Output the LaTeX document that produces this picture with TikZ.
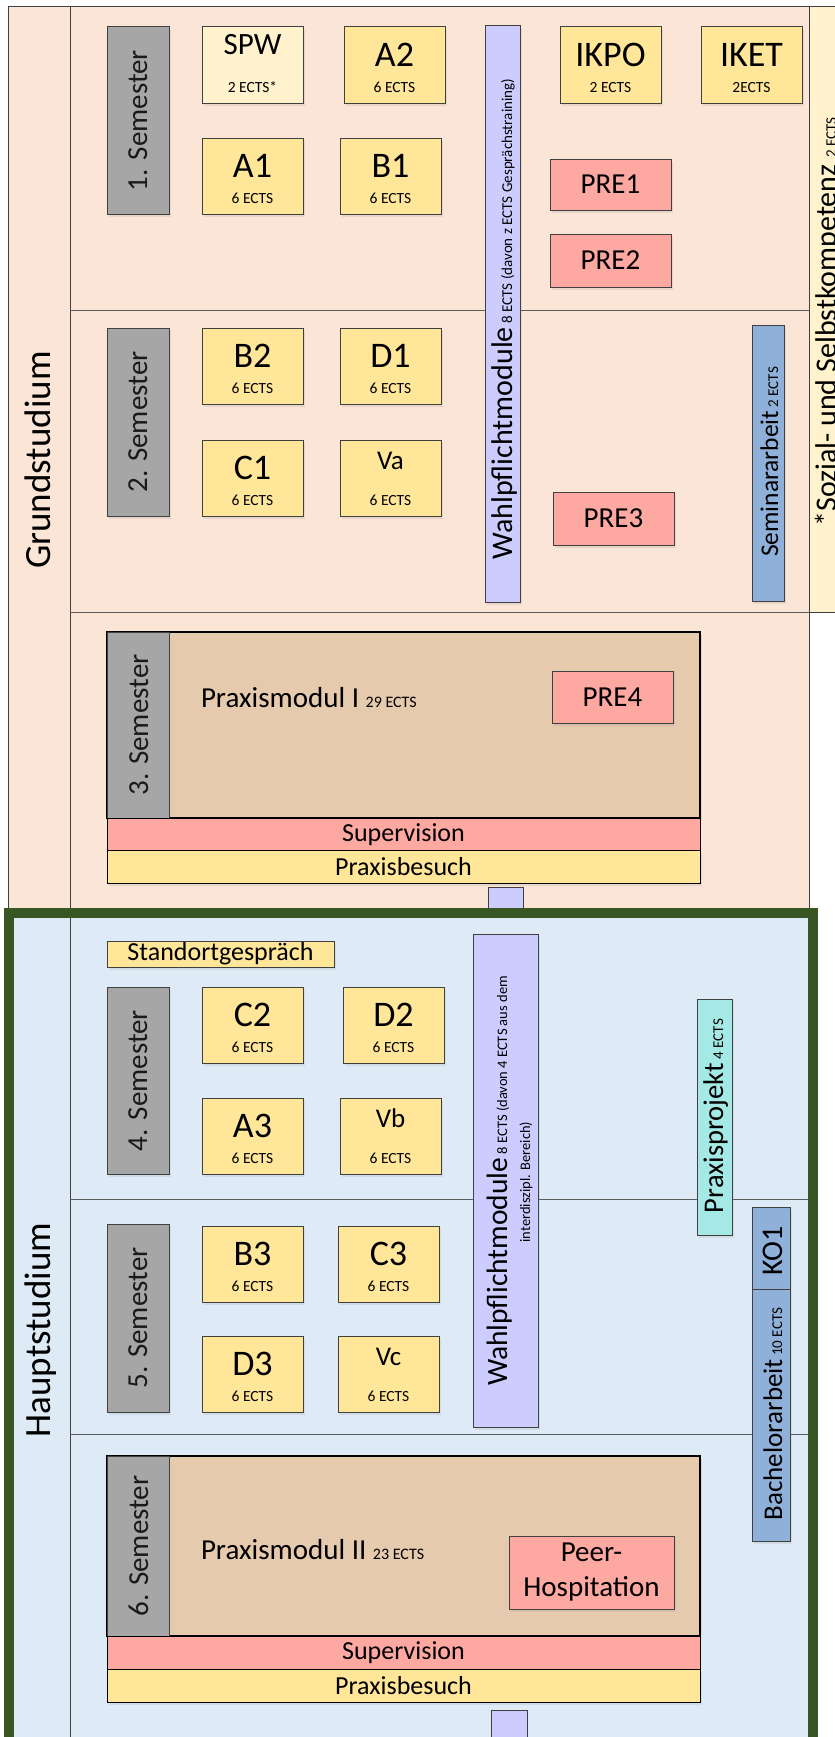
\documentclass[tikz,border=0pt]{standalone}
\usepackage{fontspec}
\setmainfont{Carlito}
\usetikzlibrary{shadows,calc}
\definecolor{peach}{HTML}{FBE5D6}
\definecolor{lblue}{HTML}{DEEBF7}
\definecolor{praxtan}{HTML}{E5CAAD}
\definecolor{semgray}{HTML}{A6A6A6}
\definecolor{modyel}{HTML}{FFE699}
\definecolor{lyel}{HTML}{FFF2CC}
\definecolor{prered}{HTML}{FDA8A1}
\definecolor{wpurple}{HTML}{CCCCFF}
\definecolor{sblue}{HTML}{8FB0D8}
\definecolor{tealc}{HTML}{A4E9E5}
\definecolor{dgreen}{HTML}{375623}
\definecolor{edge}{HTML}{404040}
\definecolor{semtext}{HTML}{1A1A1A}
\tikzset{
  every node/.style={inner sep=0pt, outer sep=0pt},
  sh/.style={drop shadow={opacity=0.15, shadow xshift=2pt, shadow yshift=-3pt}},
  boxb/.style={draw=edge, line width=1, anchor=north west, sh},
  modbox/.style={boxb, fill=modyel, minimum width=101, minimum height=76},
  sembox/.style={boxb, fill=semgray, minimum width=62, minimum height=187},
  prebox/.style={boxb, fill=prered, minimum width=121, minimum height=51, font=\fontsize{29}{33}\selectfont},
  bigt/.style={anchor=base, font=\fontsize{36}{40}\selectfont},
  vbigt/.style={anchor=base, font=\fontsize{27}{30}\selectfont},
  smallt/.style={anchor=base, font=\fontsize{15.5}{18}\selectfont},
  semt/.style={anchor=base, rotate=90, text=semtext, font=\fontsize{29}{32}\selectfont},
  rott/.style={anchor=base, rotate=90},
  sept/.style={draw=edge!85, line width=1},
  barb/.style={draw=black, line width=1, anchor=north west, minimum width=593, minimum height=33, font=\fontsize{26}{28}\selectfont},
  studt/.style={anchor=base, rotate=90, font=\fontsize{37}{40}\selectfont},
}
\newcommand\modul[5]{%
  \node[modbox] (#1) at (#2,#3) {};
  \node[bigt] (#1-a) at ($(#1.north)+(0,39.5)$) {#4};
  \node[smallt] (#1-b) at ($(#1.north)+(0,65.5)$) {#5};
}
\newcommand\vmodul[5]{%
  \node[modbox] (#1) at (#2,#3) {};
  \node[vbigt] (#1-a) at ($(#1.north)+(0,29)$) {#4};
  \node[smallt] (#1-b) at ($(#1.north)+(0,65.5)$) {#5};
}
\newcommand\smallf{\fontsize{15}{17}\selectfont}
\newcommand\smallg{\fontsize{14.5}{17}\selectfont}
\newcommand\bigf{\fontsize{30}{33}\selectfont}
\begin{document}
\begin{tikzpicture}[x=1pt,y=-1pt]
\useasboundingbox[fill=white] (0,0) rectangle (835,1737);
% regions
\path[fill=peach, draw=edge, line width=1] (8,7) rectangle (809,913);
\path[fill=lyel, draw=edge, line width=1] (809,7) rectangle (880,612);
\path[fill=lblue] (9,913) rectangle (813,1790);
\draw[edge, line width=1] (70,7) -- (70,1790);
\draw[sept] (70,310) -- (809,310) (70,612) -- (809,612) (70,1199) -- (808,1199) (70,1434) -- (808,1434);
% column labels
\node[studt] (grund) at (50,460) {Grundstudium};
\node[studt] (haupt) at (50,1330) {Hauptstudium};
\node[rott] (sozial) at (836,322) {\bigf *Sozial- und Selbstkompetenz \smallf 2 ECTS};
% ---------- 1. Semester
\node[sembox] (s1) at (107,27) {};
\node[semt] (s1t) at (147,120.5) {1. Semester};
\node[modbox, fill=lyel] (spw) at (202,27) {};
\node[anchor=base, font=\fontsize{31}{34}\selectfont] (spw-a) at ($(spw.north)+(0,28)$) {SPW};
\node[smallt] (spw-b) at ($(spw.north)+(0,65.5)$) {2 ECTS*};
\modul{a2}{344}{27}{A2}{6 ECTS}
\modul{ikpo}{560}{27}{IKPO}{2 ECTS}
\modul{iket}{701}{27}{IKET}{2ECTS}
\modul{a1}{202}{138}{A1}{6 ECTS}
\modul{b1}{340}{138}{B1}{6 ECTS}
\node[prebox] (pre1) at (550,159) {PRE1};
\node[prebox, minimum height=53] (pre2) at (550,234) {PRE2};
% Wahlpflicht 1
\node[boxb, fill=wpurple, minimum width=35, minimum height=576] (wp1) at (485,26) {};
\node[rott] (wp1t) at (512,319) {\smallf{\fontsize{30}{33}\selectfont Wahlpflichtmodule} 8 ECTS (davon z ECTS Gesprächstraining)};
% ---------- 2. Semester
\node[sembox, minimum height=188] (s2) at (107,328) {};
\node[semt] (s2t) at (147,422) {2. Semester};
\modul{b2}{202}{328}{B2}{6 ECTS}
\modul{d1}{340}{328}{D1}{6 ECTS}
\modul{c1}{202}{440}{C1}{6 ECTS}
\vmodul{va}{340}{440}{Va}{6 ECTS}
\node[prebox, minimum height=53] (pre3) at (553,492) {PRE3};
\node[boxb, fill=sblue, minimum width=32, minimum height=276] (sem) at (752,325) {};
\node[rott] (semt) at (778,462) {\smallf{\fontsize{25.5}{28}\selectfont Seminararbeit} 2 ECTS};
% ---------- 3. Semester
\node[draw=black, line width=1.4, fill=praxtan, anchor=north west, minimum width=593, minimum height=186, sh] (pm1) at (107,632) {};
\node[draw=edge, line width=1, fill=semgray, anchor=north west, minimum width=62, minimum height=186] (s3) at (107,632) {};
\node[semt] (s3t) at (148,725) {3. Semester};
\node[anchor=base west, font=\fontsize{29}{32}\selectfont] (pm1t) at (201,707) {Praxismodul I {\fontsize{16}{18}\selectfont 29 ECTS}};
\node[prebox, minimum height=52] (pre4) at (552,671) {PRE4};
\node[barb, fill=prered] (sup1) at (107,818) {Supervision};
\node[barb, fill=modyel, sh] (pb1) at (107,850) {Praxisbesuch};
\node[draw=edge, line width=1, fill=wpurple, anchor=north west, minimum width=35, minimum height=22] (con1) at (488,887) {};
% ---------- Hauptstudium frame
\draw[dgreen, line width=9.5] (9,913) rectangle (813,1800);
\node[boxb, fill=modyel, minimum width=227, minimum height=26, font=\fontsize{26}{28}\selectfont] (stand) at (107,941) {Standortgespräch};
% ---------- 4. Semester
\node[sembox] (s4) at (107,987) {};
\node[semt] (s4t) at (147,1080.5) {4. Semester};
\modul{c2}{202}{987}{C2}{6 ECTS}
\modul{d2}{343}{987}{D2}{6 ECTS}
\modul{a3}{202}{1098}{A3}{6 ECTS}
\vmodul{vb}{340}{1098}{Vb}{6 ECTS}
% Wahlpflicht 2
\node[boxb, fill=wpurple, minimum width=65, minimum height=493] (wp2) at (473,934) {};
\node[rott] (wp2t) at (507,1181) {\smallg{\fontsize{29.5}{33}\selectfont Wahlpflichtmodule} 8 ECTS (davon 4 ECTS aus dem};
\node[rott] (wp2u) at (530,1182) {\smallg interdiszipl. Bereich)};
% Praxisprojekt
\node[boxb, fill=tealc, minimum width=35, minimum height=236] (pp) at (697,999) {};
\node[rott] (ppt) at (723,1116) {\smallf{\fontsize{28.5}{31}\selectfont Praxisprojekt} 4 ECTS};
% ---------- 5. Semester
\node[sembox, minimum height=188] (s5) at (107,1224) {};
\node[semt] (s5t) at (147,1318) {5. Semester};
\modul{b3}{202}{1226}{B3}{6 ECTS}
\modul{c3}{338}{1226}{C3}{6 ECTS}
\modul{d3}{202}{1336}{D3}{6 ECTS}
\vmodul{vc}{338}{1336}{Vc}{6 ECTS}
% KO1 / Bachelorarbeit
\node[boxb, fill=sblue, minimum width=38, minimum height=82] (ko1) at (752,1207) {};
\node[rott, font=\fontsize{30}{33}\selectfont] (ko1t) at (782,1251) {KO1};
\node[boxb, fill=sblue, minimum width=38, minimum height=252] (ba) at (752,1289) {};
\node[rott] (bat) at (782,1414) {\smallf{\fontsize{27}{30}\selectfont Bachelorarbeit} 10 ECTS};
% ---------- 6. Semester
\node[draw=black, line width=1.4, fill=praxtan, anchor=north west, minimum width=593, minimum height=180, sh] (pm2) at (107,1456) {};
\node[draw=edge, line width=1, fill=semgray, anchor=north west, minimum width=62, minimum height=180] (s6) at (107,1456) {};
\node[semt] (s6t) at (148,1546) {6. Semester};
\node[anchor=base west, font=\fontsize{29}{32}\selectfont] (pm2t) at (201,1559) {Praxismodul II {\fontsize{16}{18}\selectfont 23 ECTS}};
\node[prebox, minimum width=165, minimum height=73, align=center, font=\fontsize{29}{35}\selectfont] (peer) at (509,1536) {Peer-\\Hospitation};
\node[barb, fill=prered] (sup2) at (107,1636) {Supervision};
\node[barb, fill=modyel, sh] (pb2) at (107,1669) {Praxisbesuch};
\node[draw=edge, line width=1, fill=wpurple, anchor=north west, minimum width=36, minimum height=40] (con2) at (491,1710) {};
\end{tikzpicture}
\end{document}
